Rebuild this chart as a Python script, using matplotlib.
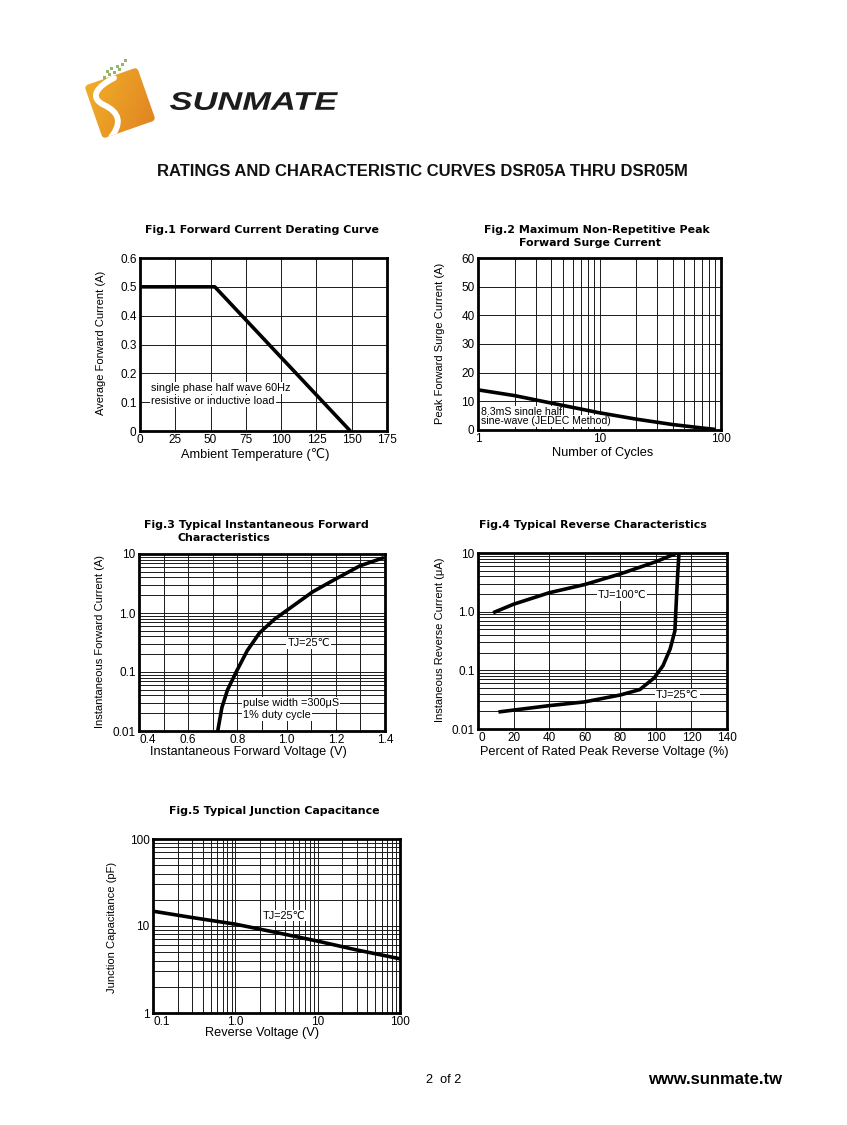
import numpy as np
import matplotlib
matplotlib.use("Agg")
import matplotlib.pyplot as plt
from matplotlib.patches import FancyBboxPatch, PathPatch, Rectangle
from matplotlib.path import Path
from matplotlib.transforms import Affine2D
from matplotlib.textpath import TextPath
from matplotlib.font_manager import FontProperties
from matplotlib.colors import LinearSegmentedColormap
from matplotlib.ticker import NullFormatter

# ---------------- data ----------------
fig1_temp = [0, 53, 149]
fig1_current = [0.5, 0.5, 0.0]

fig2_cycles = [1, 2, 4, 10, 20, 40, 70, 90]
fig2_surge = [14, 12, 9.4, 6, 3.8, 1.9, 0.7, 0.2]

fig3_vf = [0.72, 0.737, 0.76, 0.795, 0.84, 0.89, 0.95, 1.0, 1.107, 1.196, 1.298, 1.396]
fig3_if = [0.01, 0.025, 0.05, 0.1, 0.23, 0.46, 0.78, 1.1, 2.3, 3.7, 6.3, 8.7]

fig4_tj100_x = [8.5, 20, 40, 60, 80, 100, 112]
fig4_tj100_y = [0.96, 1.34, 2.1, 2.9, 4.4, 7.1, 10]
fig4_tj25_x = [11.5, 20, 40, 60, 80, 91, 99, 104, 108, 110.7, 111.5, 112.2, 113]
fig4_tj25_y = [0.0195, 0.021, 0.025, 0.029, 0.038, 0.047, 0.074, 0.12, 0.23, 0.47, 1.5, 4.0, 10]

fig5_vr = [0.1, 0.3, 1, 3, 10, 30, 100]
fig5_cj = [14.8, 12.5, 10.5, 8.5, 6.7, 5.3, 4.2]

fig1_xticks = [0, 25, 50, 75, 100, 125, 150, 175]
fig1_yticks = [0, 0.1, 0.2, 0.3, 0.4, 0.5, 0.6]
fig2_xticks = [1, 10, 100]
fig2_yticks = [0, 10, 20, 30, 40, 50, 60]
fig3_xticks = [0.4, 0.6, 0.8, 1.0, 1.2, 1.4]
fig3_yticks = [0.01, 0.1, 1.0, 10]
fig3_ylabels = ["0.01", "0.1", "1.0", "10"]
fig4_xticks = [0, 20, 40, 60, 80, 100, 120, 140]
fig4_yticks = [0.01, 0.1, 1.0, 10]
fig4_ylabels = ["0.01", "0.1", "1.0", "10"]
fig5_xticks = [0.1, 1.0, 10, 100]
fig5_xlabels = ["0.1", "1.0", "10", "100"]
fig5_yticks = [1, 10, 100]
fig5_ylabels = ["1", "10", "100"]

# ---------------- figure ----------------
W, H = 847, 1125
fig = plt.figure(figsize=(W / 100, H / 100), dpi=100)
fig.patch.set_facecolor("white")

FAM = ["Liberation Sans", "DejaVu Sans"]
TICK_FS = 8.5
LAB_FS = 9.2
YLAB_FS = 8.0
ANN_FS = 7.8
TITLE_FS = 7.9


def make_ax(l, t, r, b):
    return fig.add_axes([l / W, 1 - b / H, (r - l) / W, (b - t) / H])


def ftext(x, y, s, **kw):
    kw.setdefault("family", FAM)
    return fig.text(x / W, 1 - y / H, s, **kw)


def style(ax):
    ax.set_axisbelow(True)
    for sp in ax.spines.values():
        sp.set_linewidth(2.0)
        sp.set_color("black")
    ax.tick_params(which="both", length=0, pad=2.5, labelsize=TICK_FS)
    for lab in ax.get_xticklabels() + ax.get_yticklabels():
        lab.set_family(FAM)
    ax.grid(True, which="both", color="#1a1a1a", linewidth=0.7)


def first_left(ax):
    labs = ax.get_xticklabels()
    labs[0].set_horizontalalignment("left")


LINE = dict(color="black", linewidth=2.6, solid_capstyle="butt", zorder=5)
BOX = dict(facecolor="white", edgecolor="none", pad=0.6)

# ---- Fig 1 ----
ax1 = make_ax(140, 258, 387, 431)
ax1.plot(fig1_temp, fig1_current, **LINE)
ax1.set_xlim(0, 175)
ax1.set_ylim(0, 0.6)
ax1.set_xticks(fig1_xticks, [str(v) for v in fig1_xticks])
ax1.set_yticks(fig1_yticks, ["0", "0.1", "0.2", "0.3", "0.4", "0.5", "0.6"])
style(ax1)
ax1.text(8, 0.148, "single phase half wave 60Hz", fontsize=ANN_FS, family=FAM,
         va="center", ha="left", bbox=BOX, zorder=4)
ax1.text(8, 0.105, "resistive or inductive load", fontsize=ANN_FS, family=FAM,
         va="center", ha="left", bbox=BOX, zorder=4)
ftext(262, 230, "Fig.1 Forward Current Derating Curve", fontsize=TITLE_FS,
      family="DejaVu Sans", weight="bold", ha="center", va="center")
ftext(255, 455, "Ambient Temperature (℃)", fontsize=LAB_FS, ha="center", va="center")
ftext(101, 343, "Average Forward Current (A)", fontsize=YLAB_FS, ha="center",
      va="center", rotation=90)

# ---- Fig 2 ----
ax2 = make_ax(478, 258, 721, 430)
ax2.plot(fig2_cycles, fig2_surge, **LINE)
ax2.set_xscale("log")
ax2.set_xlim(1, 100)
ax2.set_ylim(0, 60)
ax2.set_xticks(fig2_xticks, ["1", "10", "100"])
ax2.xaxis.set_minor_formatter(NullFormatter())
ax2.set_yticks(fig2_yticks, [str(v) for v in fig2_yticks])
style(ax2)
ax2.text(1.05, 6.2, "8.3mS single half", fontsize=ANN_FS - 0.2, family=FAM,
         va="center", ha="left", bbox=BOX, zorder=4)
ax2.text(1.05, 3.1, "sine-wave (JEDEC Method)", fontsize=ANN_FS - 0.2, family=FAM,
         va="center", ha="left", bbox=BOX, zorder=4)
ftext(597, 230, "Fig.2 Maximum Non-Repetitive Peak", fontsize=TITLE_FS,
      family="DejaVu Sans", weight="bold", ha="center", va="center")
ftext(590, 243, "Forward Surge Current", fontsize=TITLE_FS,
      family="DejaVu Sans", weight="bold", ha="center", va="center")
ftext(603, 453, "Number of Cycles", fontsize=LAB_FS, ha="center", va="center")
ftext(440, 343, "Peak Forward Surge Current (A)", fontsize=YLAB_FS, ha="center",
      va="center", rotation=90)

# ---- Fig 3 ----
ax3 = make_ax(139, 554, 385, 731)
ax3.plot(fig3_vf, fig3_if, **LINE)
ax3.set_yscale("log")
ax3.set_xlim(0.4, 1.4)
ax3.set_ylim(0.01, 10)
ax3.set_xticks(np.arange(0.4, 1.41, 0.1), minor=True)
ax3.set_xticks(fig3_xticks, ["0.4", "0.6", "0.8", "1.0", "1.2", "1.4"])
ax3.set_yticks(fig3_yticks, fig3_ylabels)
ax3.yaxis.set_minor_formatter(NullFormatter())
style(ax3)
first_left(ax3)
ax3.text(1.09, 0.31, "TJ=25℃", fontsize=ANN_FS, family=FAM, va="center",
         ha="center", bbox=BOX, zorder=4)
ax3.text(0.823, 0.030, "pulse width =300μS", fontsize=ANN_FS, family=FAM,
         va="center", ha="left", bbox=BOX, zorder=4)
ax3.text(0.823, 0.0187, "1% duty cycle", fontsize=ANN_FS, family=FAM,
         va="center", ha="left", bbox=BOX, zorder=4)
ftext(256, 525, "Fig.3 Typical Instantaneous Forward", fontsize=TITLE_FS,
      family="DejaVu Sans", weight="bold", ha="center", va="center")
ftext(177, 538, "Characteristics", fontsize=TITLE_FS,
      family="DejaVu Sans", weight="bold", ha="left", va="center")
ftext(248, 752, "Instantaneous Forward Voltage (V)", fontsize=LAB_FS, ha="center", va="center")
ftext(100, 641, "Instantaneous Forward Current (A)", fontsize=YLAB_FS, ha="center",
      va="center", rotation=90)

# ---- Fig 4 ----
ax4 = make_ax(478, 553, 727, 729)
ax4.plot(fig4_tj100_x, fig4_tj100_y, **LINE)
ax4.plot(fig4_tj25_x, fig4_tj25_y, **LINE)
ax4.set_yscale("log")
ax4.set_xlim(0, 140)
ax4.set_ylim(0.01, 10)
ax4.set_xticks(fig4_xticks, [str(v) for v in fig4_xticks])
ax4.set_yticks(fig4_yticks, fig4_ylabels)
ax4.yaxis.set_minor_formatter(NullFormatter())
style(ax4)
first_left(ax4)
ax4.text(81, 1.93, "TJ=100℃", fontsize=ANN_FS, family=FAM, va="center",
         ha="center", bbox=BOX, zorder=4)
ax4.text(112, 0.038, "TJ=25℃", fontsize=ANN_FS, family=FAM, va="center",
         ha="center", bbox=BOX, zorder=4)
ftext(593, 525, "Fig.4 Typical Reverse Characteristics", fontsize=TITLE_FS,
      family="DejaVu Sans", weight="bold", ha="center", va="center")
ftext(604, 752, "Percent of Rated Peak Reverse Voltage (%)", fontsize=LAB_FS,
      ha="center", va="center")
ftext(440, 640, "Instaneous Reverse Current (μA)", fontsize=YLAB_FS, ha="center",
      va="center", rotation=90)

# ---- Fig 5 ----
ax5 = make_ax(153, 839, 400, 1013)
ax5.plot(fig5_vr, fig5_cj, **LINE)
ax5.set_xscale("log")
ax5.set_yscale("log")
ax5.set_xlim(0.1, 100)
ax5.set_ylim(1, 100)
ax5.set_xticks(fig5_xticks, fig5_xlabels)
ax5.set_yticks(fig5_yticks, fig5_ylabels)
ax5.xaxis.set_minor_formatter(NullFormatter())
ax5.yaxis.set_minor_formatter(NullFormatter())
style(ax5)
first_left(ax5)
ax5.text(3.9, 13.2, "TJ=25℃", fontsize=ANN_FS, family=FAM, va="center",
         ha="center", bbox=BOX, zorder=4)
ftext(274, 811, "Fig.5 Typical Junction Capacitance", fontsize=TITLE_FS,
      family="DejaVu Sans", weight="bold", ha="center", va="center")
ftext(262, 1033, "Reverse Voltage (V)", fontsize=LAB_FS, ha="center", va="center")
ftext(112, 927, "Junction Capacitance (pF)", fontsize=YLAB_FS, ha="center",
      va="center", rotation=90)

# ---- header / footer ----
ftext(422, 172, "RATINGS AND CHARACTERISTIC CURVES DSR05A THRU DSR05M",
      fontsize=12, weight="bold", ha="center", va="center", color="#111111")
ftext(444, 1080, "2  of 2", fontsize=9.2, ha="center", va="center")
ftext(715, 1080, "www.sunmate.tw", fontsize=12, weight="bold", ha="center", va="center")

# ---- logo (overlay in pixel coordinates) ----
ov = fig.add_axes([0, 0, 1, 1])
ov.patch.set_alpha(0)
ov.axis("off")
sq_tr = Affine2D().rotate_deg(-19.3).translate(120, 103) + ov.transData
sq = FancyBboxPatch((-28, -28), 56, 56, boxstyle="round,pad=0,rounding_size=4",
                    transform=sq_tr, facecolor="none", edgecolor="none")
ov.add_patch(sq)
gx, gy = np.meshgrid(np.linspace(0, 1, 80), np.linspace(0, 1, 80))
grad = 0.7 * gx + 0.3 * gy
cmap = LinearSegmentedColormap.from_list("lg", ["#f3b82a", "#e99a25", "#dd7a22"])
im = ov.imshow(grad, extent=(76, 164, 148, 58), cmap=cmap, aspect="auto",
               interpolation="bilinear", origin="upper")
im.set_clip_path(sq)
s_path = Path([(114, 78), (98, 86), (88, 97), (104, 105),
               (119, 112), (124, 123), (108, 141)],
              [Path.MOVETO, Path.CURVE4, Path.CURVE4, Path.CURVE4,
               Path.CURVE4, Path.CURVE4, Path.CURVE4])
s_patch = PathPatch(s_path, facecolor="none", edgecolor="white", linewidth=4.2,
                    capstyle="round")
ov.add_patch(s_patch)
s_patch.set_clip_path(sq)
for (dx, dy) in [(103, 76), (108, 73), (113, 71), (118, 68), (121, 63),
                 (116, 65), (124, 59), (110, 67), (106, 70)]:
    ov.add_patch(Rectangle((dx, dy), 3, 3, facecolor="#95b56a", edgecolor="none"))
tp = TextPath((0, 0), "SUNMATE", size=10,
              prop=FontProperties(family="Liberation Sans", weight="bold", style="italic"))
ext = tp.get_extents()
sx = 168 / ext.width
sy = 18 / ext.height
tp_tr = Affine2D().translate(-ext.x0, -ext.y0).scale(sx, -sy).translate(170, 110) + ov.transData
ov.add_patch(PathPatch(tp, transform=tp_tr, facecolor="#1c1c1c", edgecolor="none"))
ov.set_xlim(0, W)
ov.set_ylim(H, 0)

fig.savefig("out.png", dpi=100, facecolor="white")
